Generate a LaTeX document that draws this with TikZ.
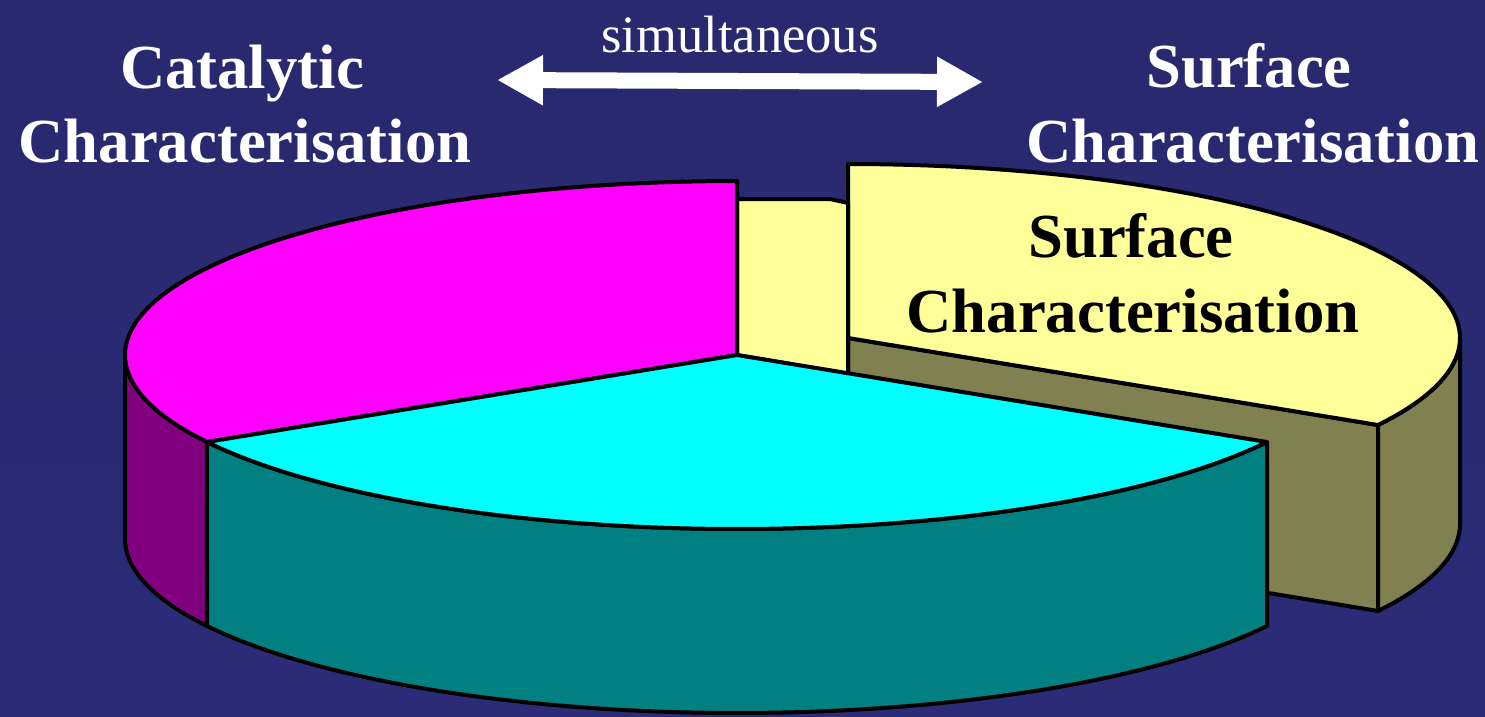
\documentclass[tikz,border=0pt]{standalone}
\usepackage{fontspec}
\setmainfont{Liberation Serif}
\usetikzlibrary{arrows.meta}
\definecolor{bgtop}{HTML}{28296E}
\definecolor{bgmid}{HTML}{33369A}
\definecolor{bgbot}{HTML}{2B2B78}
\definecolor{pmag}{HTML}{FF00FF}
\definecolor{pmagside}{HTML}{800080}
\definecolor{pcyan}{HTML}{00FFFF}
\definecolor{pteal}{HTML}{008080}
\definecolor{pyel}{HTML}{FFFF99}
\definecolor{polive}{HTML}{808050}
\tikzset{
  face/.style={draw=black, line width=4pt, line join=round},
  bigtext/.style={font=\fontsize{62.7}{70}\selectfont\bfseries, anchor=base, inner sep=0pt},
  smalltext/.style={font=\fontsize{52.5}{60}\selectfont, anchor=base, inner sep=0pt, text=white},
}
% main pie: centre (737,355), radii 612 x 174, height 184
\newcommand{\mcx}{737}
\newcommand{\mcy}{355}
\newcommand{\ecx}{848}
\newcommand{\ecy}{338}
\begin{document}
\begin{tikzpicture}[x=1pt,y=-1pt]
\useasboundingbox (0,0) rectangle (1485,716);
\shade[top color=bgtop, middle color=bgmid, bottom color=bgbot] (0,0) rectangle (1485,716);

% ---- exploded slice (Surface Characterisation)
\coordinate (eapex) at (\ecx,\ecy);
\coordinate (erim) at (1378,425);
\fill[polive, face] (eapex) -- (erim) -- ++(0,186) -- (\ecx,{\ecy+186}) -- cycle;
\fill[polive, face] plot[domain=330:360, samples=20] ({\ecx+612*cos(\x)}, {\ecy-174*sin(\x)})
   -- plot[domain=360:330, samples=20] ({\ecx+612*cos(\x)}, {\ecy+186-174*sin(\x)}) -- cycle;
\fill[pyel, face] (eapex) -- plot[domain=330:450, samples=80] ({\ecx+612*cos(\x)}, {\ecy-174*sin(\x)}) -- cycle;

% ---- pale face seen behind the gap
\fill[pyel, face] (737,199) -- (830,199) -- (848,203) -- (848,374) -- (737,355) -- cycle;

% ---- main pie sides
\coordinate (apex) at (\mcx,\mcy);
\fill[pmagside, face] plot[domain=180:210, samples=20] ({\mcx+612*cos(\x)}, {\mcy-174*sin(\x)})
   -- plot[domain=210:180, samples=20] ({\mcx+612*cos(\x)}, {\mcy+184-174*sin(\x)}) -- cycle;
\fill[pteal, face] plot[domain=210:330, samples=80] ({\mcx+612*cos(\x)}, {\mcy-174*sin(\x)})
   -- plot[domain=330:210, samples=80] ({\mcx+612*cos(\x)}, {\mcy+184-174*sin(\x)}) -- cycle;
% ---- main pie tops
\fill[pmag, face] (apex) -- plot[domain=90:210, samples=80] ({\mcx+612*cos(\x)}, {\mcy-174*sin(\x)}) -- cycle;
\fill[pcyan, face] (apex) -- plot[domain=210:330, samples=80] ({\mcx+612*cos(\x)}, {\mcy-174*sin(\x)}) -- cycle;

% ---- labels
\node[bigtext, text=black] (sliceA) at (1131,257) {Surface};
\node[bigtext, text=black] (sliceB) at (1133,332) {Characterisation};
\node[bigtext, text=white] (catA) at (242,88) {Catalytic};
\node[bigtext, text=white] (catB) at (245,162) {Characterisation};
\node[bigtext, text=white] (surA) at (1249,87) {Surface};
\node[bigtext, text=white] (surB) at (1253,162) {Characterisation};
\node[smalltext] (simul) at (740,52) {simultaneous};

% ---- double arrow
\coordinate (arrL) at (497,80);
\coordinate (arrR) at (983,82);
\draw[white, line width=16pt, {Triangle[width=47pt,length=46pt]}-{Triangle[width=47pt,length=46pt]}] (arrL) -- (arrR);
\end{tikzpicture}
\end{document}
